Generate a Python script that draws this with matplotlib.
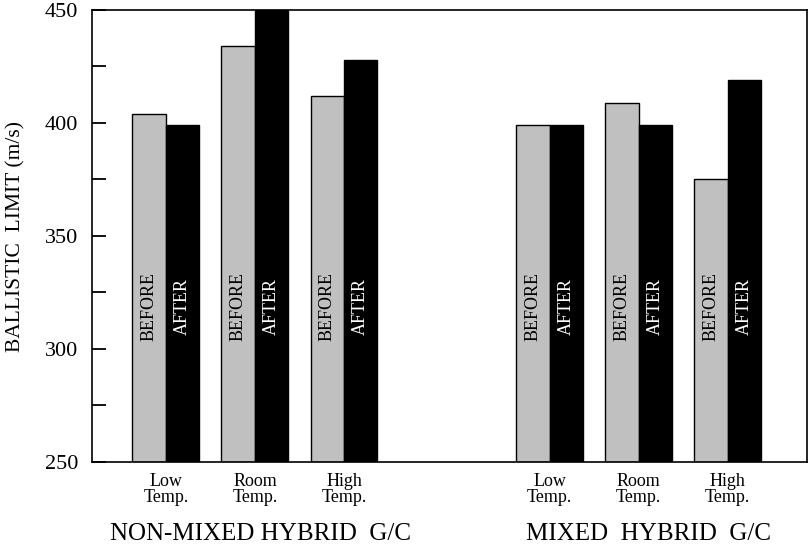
import matplotlib
matplotlib.use('Agg')
import matplotlib.pyplot as plt
import numpy as np

# Dados
condicoes = ['Low\nTemp.', 'Room\nTemp.', 'High\nTemp.']
grupos = ['NON-MIXED HYBRID  G/C', 'MIXED  HYBRID  G/C']
antes_nao_misto = [404, 434, 412]
depois_nao_misto = [399, 450, 428]
antes_misto = [399, 409, 375]
depois_misto = [399, 399, 419]

plt.rcParams['font.family'] = ['Liberation Serif', 'DejaVu Serif']

fig = plt.figure(figsize=(8.08, 5.45), dpi=100)
ax = fig.add_axes([92 / 808, 1 - 462 / 545, 715 / 808, 452 / 545])

# posições das barras (segundo grupo deslocado)
x1 = np.arange(3)
x2 = np.arange(3) + 4.31
largura = 0.376

antes = antes_nao_misto + antes_misto
depois = depois_nao_misto + depois_misto
xs = np.concatenate([x1, x2])
base = 250

ax.bar(xs - largura / 2, np.array(antes) - base, largura, bottom=base,
       color='#c0c0c0', edgecolor='black', linewidth=1.0, zorder=2)
ax.bar(xs + largura / 2, np.array(depois) - base, largura, bottom=base,
       color='black', edgecolor='black', linewidth=1.0, zorder=2)

# textos dentro das barras
for x in xs:
    ax.text(x - largura / 2, 319, 'BEFORE', rotation=90, ha='center', va='center',
            fontsize=13, color='black', zorder=3)
    ax.text(x + largura / 2, 319, 'AFTER', rotation=90, ha='center', va='center',
            fontsize=13, color='white', zorder=3)

ax.set_xlim(-0.83, 7.2)
ax.set_ylim(250, 450)

ax.set_xticks(xs)
ax.set_xticklabels(condicoes * 2, fontsize=13, linespacing=0.88)
ax.tick_params(axis='x', length=0, pad=8)

ax.set_yticks([250, 300, 350, 400, 450])
ax.set_yticks([275, 325, 375, 425], minor=True)
ax.tick_params(axis='y', which='both', direction='in', length=10, width=1.3,
               labelsize=16, pad=10)
ax.set_ylabel('BALLISTIC  LIMIT (m/s)', fontsize=15.5, labelpad=14)

for s in ax.spines.values():
    s.set_linewidth(1.2)

# rótulos dos grupos
for cx, nome in zip([x1.mean() + 0.06, x2.mean() + 0.11], grupos):
    ax.text(cx, -0.159, nome, transform=ax.get_xaxis_transform(), ha='center',
            va='center', fontsize=18)

fig.savefig('out.png', dpi=100)
